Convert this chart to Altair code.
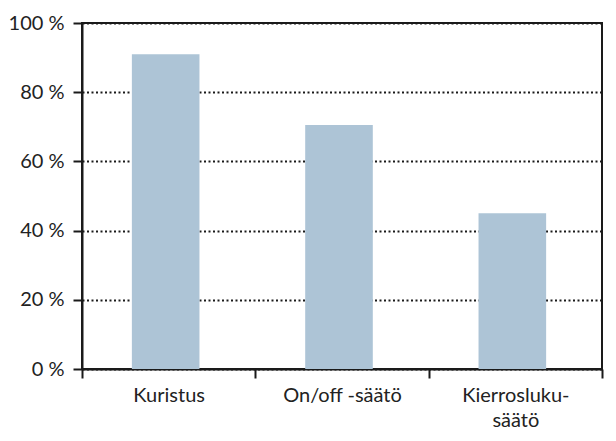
import altair as alt
import pandas as pd

categories = ["Kuristus", "On/off -säätö", "Kierrosluku-\nsäätö"]
values = [91, 70.5, 45]

df = pd.DataFrame({"cat": categories, "val": values})

FONT = "Lato"
W, H = 520, 346

bars = alt.Chart(df).mark_bar(color="#adc4d6", width=alt.RelativeBandSize(0.39), xOffset=-3).encode(
    x=alt.X("cat:N", sort=categories, title=None,
            scale=alt.Scale(paddingInner=0, paddingOuter=0),
            axis=alt.Axis(labelAngle=0, tickBand="extent", tickSize=9, tickWidth=2,
                          tickColor="#1a1a1a", domainColor="#1a1a1a", domainWidth=2,
                          labelFont=FONT, labelFontSize=20, labelColor="#222222",
                          labelPadding=7, labelLineHeight=25,
                          labelExpr="split(datum.label, '\\n')")),
    y=alt.Y("val:Q", title=None,
            scale=alt.Scale(domain=[0, 100]),
            axis=alt.Axis(values=[0, 20, 40, 60, 80, 100], tickSize=9, tickWidth=2,
                          tickColor="#1a1a1a", domainColor="#1a1a1a", domainWidth=2,
                          labelFont=FONT, labelFontSize=20, labelColor="#222222",
                          labelPadding=9, labelExpr="datum.value + ' %'",
                          grid=True, gridColor="#1a1a1a", gridWidth=2,
                          gridDash=[2, 2.5])),
)

chart = bars.properties(
    width=W, height=H,
    autosize=alt.AutoSizeParams(type="none"),
    padding={"left": 74, "top": 15, "right": 6, "bottom": 64},
).configure_view(stroke="#1a1a1a", strokeWidth=2)

chart.save("out.html", embed_options={"renderer": "svg", "actions": False})
